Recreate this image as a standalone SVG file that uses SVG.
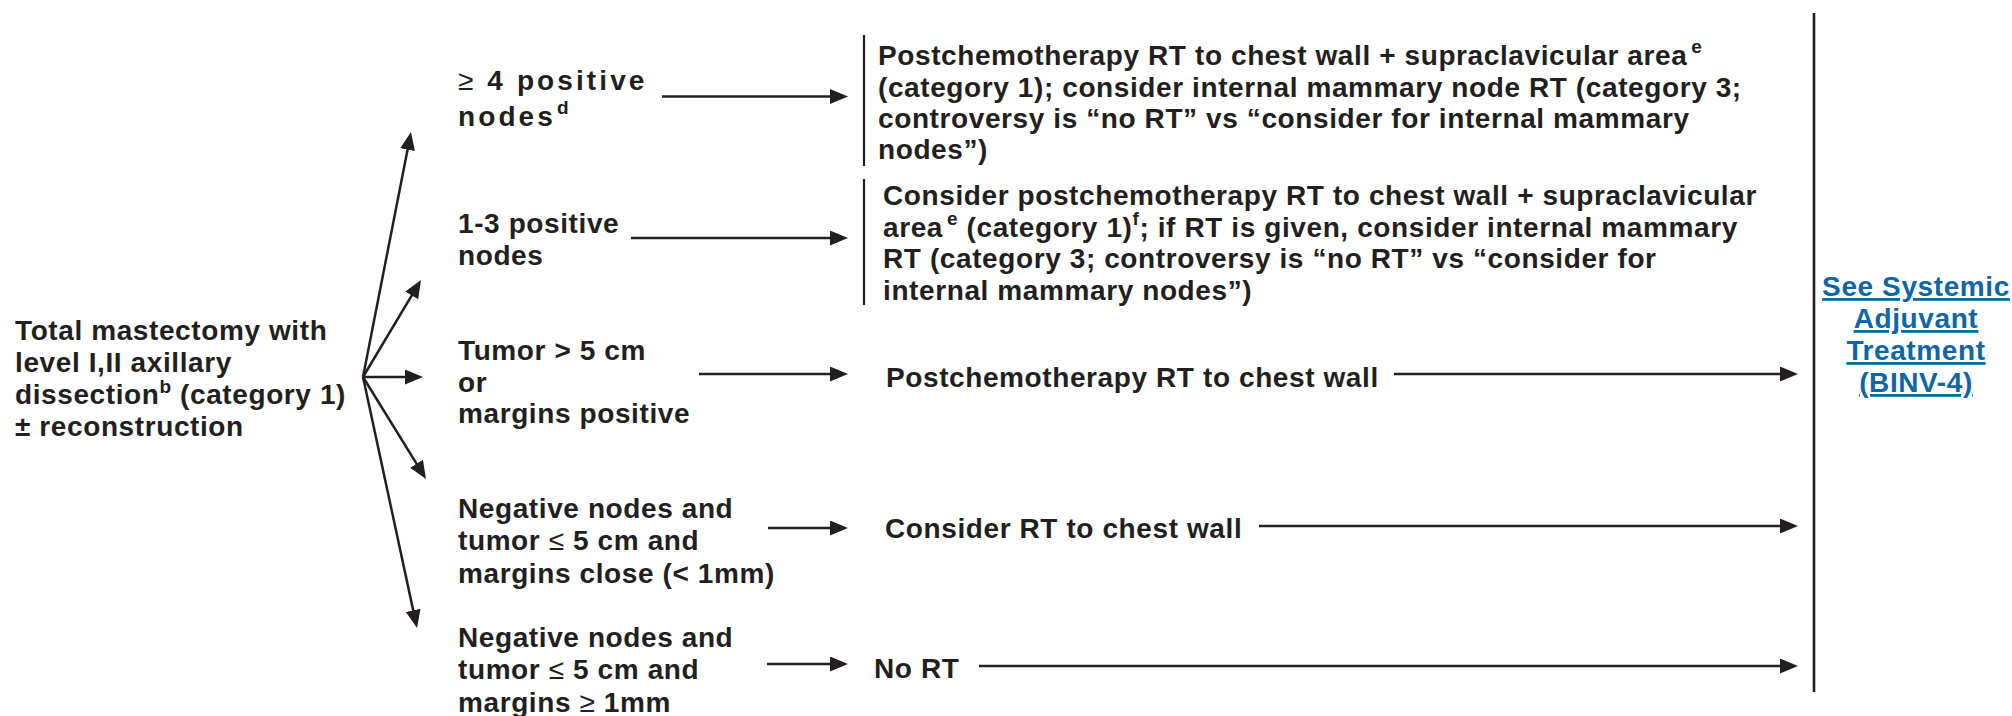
<svg xmlns="http://www.w3.org/2000/svg" width="2012" height="716" viewBox="0 0 2012 716">
<style>
  text { font-family: "Liberation Sans", Arial, sans-serif; font-weight: bold; font-size: 28px; fill: #231f20; letter-spacing: 0.6px; }
  .wide { letter-spacing: 3.1px; }
  .sym { font-weight: normal; }
  .sup { font-size: 19px; }
  .link { fill: #0e66a6; text-decoration: underline; letter-spacing: 0.6px; }
  .ln { stroke: #231f20; stroke-width: 2.5; fill: none; }
  .bar { stroke: #231f20; stroke-width: 2.2; fill: none; }
</style>
<defs>
  <marker id="ah" markerUnits="userSpaceOnUse" markerWidth="18" markerHeight="15" refX="12" refY="7.5" orient="auto">
    <path d="M0,0 L18,7.5 L0,15 Z" fill="#231f20"/>
  </marker>
</defs>
<rect width="2012" height="716" fill="#ffffff"/>

<g id="connectors">
  <line class="ln" x1="363" y1="377" x2="409.85" y2="137.9" marker-end="url(#ah)"/>
  <line class="ln" x1="363" y1="377" x2="417.9" y2="285.15" marker-end="url(#ah)"/>
  <line class="ln" x1="363" y1="377" x2="417" y2="377" marker-end="url(#ah)"/>
  <line class="ln" x1="363" y1="377" x2="422.85" y2="473.9" marker-end="url(#ah)"/>
  <line class="ln" x1="363" y1="377" x2="415.74" y2="622.13" marker-end="url(#ah)"/>

  <line class="ln" x1="662" y1="96.5" x2="842" y2="96.5" marker-end="url(#ah)"/>
  <line class="ln" x1="631" y1="238" x2="842" y2="238" marker-end="url(#ah)"/>
  <line class="ln" x1="699" y1="374" x2="842" y2="374" marker-end="url(#ah)"/>
  <line class="ln" x1="768" y1="528" x2="842" y2="528" marker-end="url(#ah)"/>
  <line class="ln" x1="767" y1="664" x2="842" y2="664" marker-end="url(#ah)"/>

  <line class="ln" x1="1394" y1="374" x2="1792" y2="374" marker-end="url(#ah)"/>
  <line class="ln" x1="1259" y1="526" x2="1792" y2="526" marker-end="url(#ah)"/>
  <line class="ln" x1="979" y1="666" x2="1792" y2="666" marker-end="url(#ah)"/>
</g>

<g id="node-start">
  <text x="15" y="340">Total mastectomy with</text>
  <text x="15" y="372">level I,II axillary</text>
  <text x="15" y="404">dissection<tspan class="sup" dy="-11">b</tspan><tspan dy="11"> (category 1)</tspan></text>
  <text x="15" y="436">± reconstruction</text>
</g>

<g id="node-4pos">
  <text class="wide" x="458" y="90"><tspan class="sym">≥</tspan> 4 positive</text>
  <text class="wide" x="458" y="126">nodes<tspan class="sup" dx="1" dy="-12">d</tspan></text>
</g>

<g id="node-13pos">
  <text x="458" y="233">1-3 positive</text>
  <text x="458" y="265">nodes</text>
</g>

<g id="node-tumor5">
  <text x="458" y="360">Tumor &gt; 5 cm</text>
  <text x="458" y="392">or</text>
  <text x="458" y="423">margins positive</text>
</g>

<g id="node-negclose">
  <text x="458" y="518">Negative nodes and</text>
  <text x="458" y="550">tumor <tspan class="sym">≤</tspan> 5 cm and</text>
  <text x="458" y="583">margins close (&lt; 1mm)</text>
</g>

<g id="node-neg1mm">
  <text x="458" y="647">Negative nodes and</text>
  <text x="458" y="679">tumor <tspan class="sym">≤</tspan> 5 cm and</text>
  <text x="458" y="712">margins <tspan class="sym">≥</tspan> 1mm</text>
</g>

<g id="node-rt4">
  <line class="bar" x1="864" y1="35" x2="864" y2="166"/>
  <text x="878" y="65">Postchemotherapy RT to chest wall + supraclavicular area<tspan class="sup" dx="4" dy="-12">e</tspan></text>
  <text x="878" y="97">(category 1); consider internal mammary node RT (category 3;</text>
  <text x="878" y="128">controversy is “no RT” vs “consider for internal mammary</text>
  <text x="878" y="159">nodes”)</text>
</g>

<g id="node-rt13">
  <line class="bar" x1="864" y1="179" x2="864" y2="305"/>
  <text x="883" y="205">Consider postchemotherapy RT to chest wall + supraclavicular</text>
  <text x="883" y="237">area<tspan class="sup" dx="4" dy="-12">e</tspan><tspan dy="12"> (category 1)</tspan><tspan class="sup" dy="-12">f</tspan><tspan dy="12">; if RT is given, consider internal mammary</tspan></text>
  <text x="883" y="268">RT (category 3; controversy is “no RT” vs “consider for</text>
  <text x="883" y="300">internal mammary nodes”)</text>
</g>

<g id="node-rtcw">
  <text x="886" y="387">Postchemotherapy RT to chest wall</text>
</g>

<g id="node-considercw">
  <text x="885" y="538">Consider RT to chest wall</text>
</g>

<g id="node-nort">
  <text x="874" y="678">No RT</text>
</g>

<g id="node-systemic">
  <line class="bar" x1="1814" y1="13" x2="1814" y2="692" style="stroke-width:2.6"/>
  <text class="link" x="1916" y="296" text-anchor="middle">See Systemic</text>
  <text class="link" x="1916" y="328" text-anchor="middle">Adjuvant</text>
  <text class="link" x="1916" y="360" text-anchor="middle">Treatment</text>
  <text class="link" x="1916" y="392" text-anchor="middle">(BINV-4)</text>
</g>
</svg>
